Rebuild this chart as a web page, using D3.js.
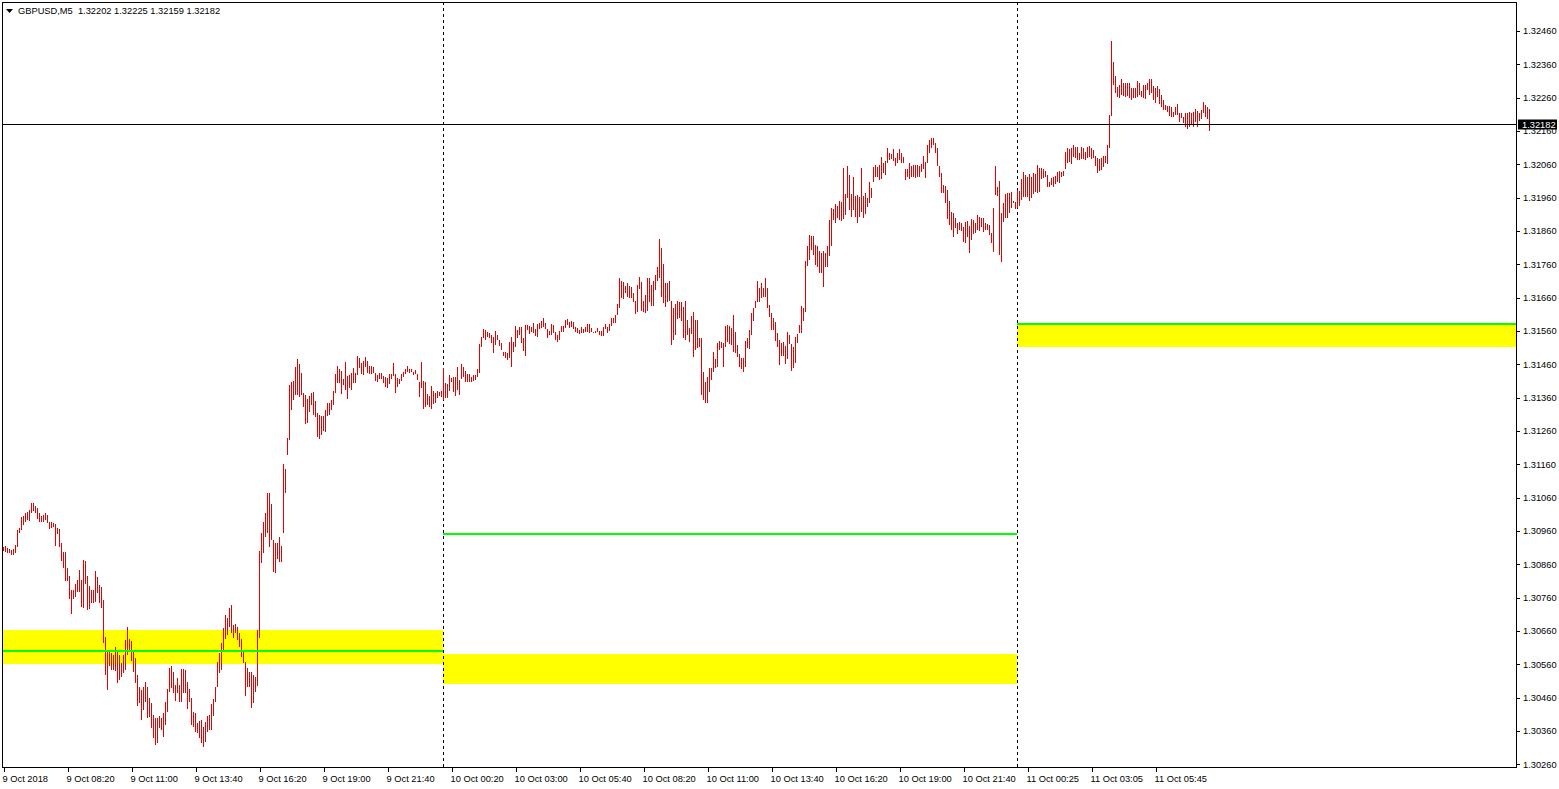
<!DOCTYPE html>
<html><head><meta charset="utf-8">
<script src="https://cdn.jsdelivr.net/npm/d3@7/dist/d3.min.js"></script>
<style>
html,body{margin:0;padding:0;background:#fff;overflow:hidden;}
svg{display:block;font-family:"Liberation Sans",Arial,sans-serif;}
</style></head><body>
<svg id="chart" width="1559" height="789"></svg>
<script>
// ---------------- data ----------------
const symbolTitle = "GBPUSD,M5";
const lastBarOHLC = [1.32202, 1.32225, 1.32159, 1.32182];
const timeLabels = ["9 Oct 2018","9 Oct 08:20","9 Oct 11:00","9 Oct 13:40","9 Oct 16:20","9 Oct 19:00","9 Oct 21:40",
  "10 Oct 00:20","10 Oct 03:00","10 Oct 05:40","10 Oct 08:20","10 Oct 11:00","10 Oct 13:40","10 Oct 16:20","10 Oct 19:00","10 Oct 21:40",
  "11 Oct 00:25","11 Oct 03:05","11 Oct 05:45"];
const timeLabelBars = [0,32,64,96,128,160,192,224,256,288,320,352,384,416,448,480,512,544,576];
const priceTicks = [1.32460,1.32360,1.32260,1.32160,1.32060,1.31960,1.31860,1.31760,1.31660,1.31560,1.31460,1.31360,
  1.31260,1.31160,1.31060,1.30960,1.30860,1.30760,1.30660,1.30560,1.30460,1.30360,1.30260];
const separatorBars = [220, 507];
// supply/demand zones (bar index range, price range)
const zoneStart = [-0.5, 220, 507];
const zoneEnd = [220, 507, 756.5];
const zoneTop = [1.30663, 1.30591, 1.31578];
const zoneBottom = [1.30561, 1.30501, 1.31513];
// green horizontal levels
const levelStart = [-0.5, 220, 507];
const levelEnd = [220, 507, 756.5];
const levelPrice = [1.30601, 1.30952, 1.31581];

const highs = [
1.30913,1.30915,1.30909,1.30906,1.30904,1.30905,1.30918,1.30963,1.30968,1.31003,
1.31005,1.31013,1.31016,1.31023,1.31043,1.31043,1.31036,1.31028,1.31013,1.31006,
1.31008,1.31013,1.31008,1.30988,1.30988,1.30985,1.30980,1.30968,1.30967,1.30923,
1.30897,1.30897,1.30850,1.30825,1.30783,1.30783,1.30801,1.30813,1.30843,1.30813,
1.30873,1.30871,1.30826,1.30795,1.30783,1.30783,1.30840,1.30823,1.30798,1.30793,
1.30753,1.30643,1.30598,1.30598,1.30593,1.30588,1.30613,1.30600,1.30588,1.30563,
1.30588,1.30633,1.30673,1.30636,1.30630,1.30603,1.30578,1.30528,1.30493,1.30483,
1.30493,1.30508,1.30493,1.30458,1.30443,1.30408,1.30398,1.30398,1.30406,1.30398,
1.30413,1.30448,1.30485,1.30548,1.30555,1.30538,1.30498,1.30518,1.30498,1.30545,
1.30545,1.30543,1.30508,1.30485,1.30458,1.30418,1.30413,1.30383,1.30390,1.30393,
1.30373,1.30386,1.30405,1.30408,1.30441,1.30455,1.30493,1.30568,1.30593,1.30623,
1.30668,1.30707,1.30698,1.30728,1.30738,1.30678,1.30681,1.30673,1.30653,1.30635,
1.30598,1.30566,1.30548,1.30538,1.30538,1.30528,1.30523,1.30663,1.30901,1.30955,
1.30988,1.31013,1.31073,1.31073,1.31041,1.30933,1.30923,1.30925,1.30941,1.30915,
1.31161,1.31145,1.31240,1.31398,1.31408,1.31410,1.31451,1.31475,1.31461,1.31433,
1.31373,1.31368,1.31355,1.31365,1.31373,1.31378,1.31350,1.31315,1.31308,1.31305,
1.31305,1.31323,1.31343,1.31343,1.31353,1.31380,1.31430,1.31455,1.31445,1.31441,
1.31415,1.31466,1.31425,1.31428,1.31433,1.31448,1.31435,1.31485,1.31478,1.31465,
1.31471,1.31481,1.31471,1.31455,1.31455,1.31453,1.31435,1.31428,1.31433,1.31433,
1.31425,1.31423,1.31418,1.31430,1.31430,1.31463,1.31430,1.31418,1.31415,1.31431,
1.31438,1.31446,1.31455,1.31446,1.31446,1.31438,1.31443,1.31431,1.31408,1.31468,
1.31411,1.31408,1.31371,1.31365,1.31395,1.31381,1.31373,1.31380,1.31378,1.31381,
1.31448,1.31405,1.31401,1.31428,1.31418,1.31423,1.31423,1.31451,1.31413,1.31461,
1.31451,1.31441,1.31431,1.31431,1.31423,1.31428,1.31428,1.31446,1.31521,1.31543,
1.31565,1.31563,1.31558,1.31553,1.31548,1.31543,1.31560,1.31548,1.31533,1.31525,
1.31498,1.31498,1.31493,1.31528,1.31541,1.31528,1.31575,1.31563,1.31573,1.31573,
1.31538,1.31578,1.31578,1.31575,1.31573,1.31585,1.31565,1.31580,1.31585,1.31590,
1.31598,1.31583,1.31566,1.31560,1.31581,1.31578,1.31558,1.31548,1.31560,1.31576,
1.31575,1.31593,1.31596,1.31586,1.31590,1.31588,1.31573,1.31568,1.31563,1.31573,
1.31566,1.31571,1.31580,1.31581,1.31568,1.31558,1.31560,1.31570,1.31561,1.31560,
1.31573,1.31581,1.31571,1.31581,1.31598,1.31600,1.31608,1.31641,1.31718,1.31710,
1.31706,1.31696,1.31703,1.31695,1.31691,1.31673,1.31650,1.31698,1.31723,1.31706,
1.31650,1.31668,1.31718,1.31718,1.31698,1.31710,1.31728,1.31751,1.31836,1.31808,
1.31761,1.31703,1.31703,1.31710,1.31650,1.31628,1.31641,1.31650,1.31646,1.31648,
1.31633,1.31650,1.31593,1.31568,1.31606,1.31618,1.31593,1.31593,1.31540,1.31538,
1.31438,1.31408,1.31423,1.31448,1.31448,1.31498,1.31476,1.31525,1.31530,1.31528,
1.31523,1.31575,1.31578,1.31575,1.31570,1.31608,1.31558,1.31518,1.31491,1.31480,
1.31478,1.31531,1.31540,1.31563,1.31615,1.31630,1.31650,1.31711,1.31688,1.31703,
1.31690,1.31720,1.31688,1.31638,1.31615,1.31600,1.31588,1.31553,1.31533,1.31523,
1.31528,1.31516,1.31558,1.31548,1.31520,1.31513,1.31543,1.31550,1.31578,1.31635,
1.31628,1.31771,1.31815,1.31848,1.31845,1.31845,1.31818,1.31815,1.31801,1.31795,
1.31801,1.31795,1.31815,1.31893,1.31930,1.31925,1.31941,1.31935,1.31951,1.31948,
1.32048,1.31971,1.32055,1.32028,1.31970,1.32023,1.31965,1.31968,1.31963,1.32048,
1.31965,1.31975,1.31958,1.32008,1.31988,1.32051,1.32058,1.32051,1.32058,1.32081,
1.32065,1.32070,1.32110,1.32095,1.32091,1.32105,1.32080,1.32095,1.32106,1.32093,
1.32083,1.32045,1.32045,1.32063,1.32055,1.32058,1.32058,1.32058,1.32055,1.32061,
1.32086,1.32068,1.32118,1.32133,1.32138,1.32138,1.32125,1.32110,1.32055,1.32035,
1.31998,1.31995,1.31983,1.31950,1.31918,1.31915,1.31900,1.31885,1.31888,1.31883,
1.31873,1.31888,1.31890,1.31875,1.31895,1.31893,1.31883,1.31908,1.31901,1.31898,
1.31898,1.31883,1.31881,1.31878,1.31853,1.31928,1.32055,1.31993,1.32010,1.31915,
1.31943,1.31971,1.31973,1.31975,1.31978,1.31951,1.31948,1.31983,1.31980,1.32015,
1.32036,1.32028,1.32023,1.32031,1.32023,1.32033,1.32031,1.32058,1.32048,1.32048,
1.32045,1.32041,1.32028,1.32008,1.32018,1.32023,1.32026,1.32038,1.32041,1.32038,
1.32041,1.32098,1.32108,1.32105,1.32108,1.32118,1.32113,1.32113,1.32095,1.32113,
1.32108,1.32098,1.32113,1.32115,1.32108,1.32103,1.32085,1.32078,1.32077,1.32078,
1.32085,1.32085,1.32118,1.32208,1.32431,1.32368,1.32326,1.32291,1.32298,1.32315,
1.32305,1.32303,1.32305,1.32305,1.32288,1.32288,1.32288,1.32311,1.32305,1.32281,
1.32298,1.32298,1.32303,1.32315,1.32315,1.32295,1.32288,1.32295,1.32285,1.32268,
1.32253,1.32238,1.32235,1.32235,1.32231,1.32218,1.32231,1.32241,1.32213,1.32215,
1.32201,1.32215,1.32215,1.32218,1.32213,1.32218,1.32225,1.32221,1.32215,1.32223,
1.32248,1.32238,1.32233,1.32225];

const lows = [
1.30901,1.30898,1.30895,1.30893,1.30888,1.30888,1.30893,1.30911,1.30955,1.30963,
1.30978,1.30988,1.30993,1.30990,1.31013,1.31021,1.31013,1.30996,1.30988,1.30988,
1.30988,1.30993,1.30983,1.30966,1.30968,1.30973,1.30916,1.30951,1.30913,1.30871,
1.30850,1.30811,1.30811,1.30756,1.30711,1.30755,1.30761,1.30776,1.30778,1.30731,
1.30728,1.30801,1.30723,1.30725,1.30743,1.30743,1.30748,1.30773,1.30743,1.30728,
1.30623,1.30528,1.30483,1.30555,1.30543,1.30543,1.30541,1.30505,1.30513,1.30523,
1.30533,1.30543,1.30588,1.30598,1.30571,1.30538,1.30505,1.30436,1.30443,1.30393,
1.30423,1.30448,1.30398,1.30403,1.30368,1.30338,1.30318,1.30323,1.30368,1.30363,
1.30341,1.30378,1.30418,1.30478,1.30488,1.30473,1.30450,1.30473,1.30448,1.30448,
1.30475,1.30473,1.30426,1.30448,1.30378,1.30373,1.30358,1.30353,1.30338,1.30323,
1.30311,1.30328,1.30358,1.30363,1.30363,1.30405,1.30448,1.30493,1.30533,1.30543,
1.30598,1.30635,1.30649,1.30673,1.30653,1.30638,1.30653,1.30633,1.30611,1.30583,
1.30565,1.30465,1.30491,1.30493,1.30430,1.30443,1.30478,1.30495,1.30640,1.30865,
1.30895,1.30941,1.30953,1.30913,1.30933,1.30838,1.30835,1.30875,1.30868,1.30868,
1.30955,1.31075,1.31188,1.31233,1.31323,1.31353,1.31368,1.31368,1.31363,1.31368,
1.31333,1.31280,1.31285,1.31318,1.31338,1.31308,1.31303,1.31243,1.31235,1.31248,
1.31260,1.31258,1.31305,1.31308,1.31323,1.31338,1.31373,1.31403,1.31403,1.31370,
1.31398,1.31383,1.31355,1.31388,1.31383,1.31403,1.31405,1.31428,1.31448,1.31430,
1.31428,1.31451,1.31433,1.31430,1.31430,1.31435,1.31411,1.31408,1.31415,1.31415,
1.31405,1.31393,1.31388,1.31401,1.31415,1.31425,1.31373,1.31393,1.31401,1.31411,
1.31423,1.31431,1.31438,1.31433,1.31436,1.31428,1.31430,1.31413,1.31363,1.31388,
1.31325,1.31333,1.31338,1.31333,1.31325,1.31340,1.31345,1.31360,1.31366,1.31363,
1.31353,1.31360,1.31360,1.31381,1.31408,1.31378,1.31366,1.31383,1.31368,1.31415,
1.31423,1.31408,1.31408,1.31408,1.31408,1.31411,1.31413,1.31423,1.31435,1.31511,
1.31538,1.31533,1.31543,1.31538,1.31523,1.31495,1.31518,1.31533,1.31516,1.31503,
1.31485,1.31478,1.31473,1.31480,1.31453,1.31496,1.31513,1.31538,1.31548,1.31523,
1.31501,1.31485,1.31563,1.31550,1.31556,1.31553,1.31545,1.31543,1.31566,1.31568,
1.31573,1.31566,1.31540,1.31548,1.31548,1.31553,1.31533,1.31526,1.31532,1.31558,
1.31558,1.31568,1.31578,1.31570,1.31573,1.31566,1.31558,1.31553,1.31551,1.31553,
1.31553,1.31558,1.31558,1.31553,1.31558,1.31553,1.31553,1.31556,1.31548,1.31546,
1.31546,1.31566,1.31553,1.31560,1.31576,1.31583,1.31585,1.31608,1.31628,1.31658,
1.31656,1.31673,1.31663,1.31658,1.31660,1.31646,1.31610,1.31618,1.31685,1.31620,
1.31616,1.31613,1.31620,1.31646,1.31635,1.31636,1.31683,1.31710,1.31720,1.31663,
1.31645,1.31633,1.31646,1.31650,1.31518,1.31533,1.31548,1.31595,1.31600,1.31591,
1.31538,1.31533,1.31548,1.31526,1.31550,1.31483,1.31503,1.31508,1.31513,1.31368,
1.31353,1.31343,1.31343,1.31378,1.31413,1.31438,1.31448,1.31453,1.31503,1.31510,
1.31453,1.31513,1.31526,1.31520,1.31518,1.31496,1.31495,1.31483,1.31453,1.31446,
1.31438,1.31453,1.31510,1.31506,1.31548,1.31591,1.31628,1.31648,1.31648,1.31658,
1.31663,1.31663,1.31630,1.31603,1.31563,1.31563,1.31531,1.31513,1.31458,1.31486,
1.31486,1.31460,1.31476,1.31520,1.31441,1.31448,1.31463,1.31523,1.31555,1.31555,
1.31591,1.31618,1.31755,1.31773,1.31803,1.31788,1.31758,1.31753,1.31735,1.31735,
1.31693,1.31751,1.31751,1.31785,1.31815,1.31893,1.31883,1.31898,1.31893,1.31891,
1.31895,1.31908,1.31958,1.31923,1.31903,1.31923,1.31903,1.31883,1.31903,1.31918,
1.31900,1.31911,1.31933,1.31943,1.31958,1.32008,1.32023,1.32023,1.32013,1.32015,
1.32033,1.32028,1.32065,1.32073,1.32075,1.32071,1.32055,1.32065,1.32073,1.32065,
1.32065,1.32013,1.32021,1.32015,1.32021,1.32021,1.32018,1.32023,1.32023,1.32038,
1.32045,1.32018,1.32063,1.32093,1.32108,1.32118,1.32095,1.32055,1.32023,1.31973,
1.31973,1.31943,1.31895,1.31878,1.31863,1.31843,1.31868,1.31851,1.31863,1.31860,
1.31828,1.31825,1.31843,1.31793,1.31833,1.31851,1.31853,1.31863,1.31860,1.31873,
1.31858,1.31863,1.31863,1.31848,1.31823,1.31798,1.31968,1.31965,1.31788,1.31768,
1.31888,1.31898,1.31900,1.31915,1.31928,1.31943,1.31926,1.31928,1.31936,1.31953,
1.31963,1.31963,1.31963,1.31950,1.31958,1.31971,1.31978,1.31973,1.31978,1.32015,
1.32018,1.32023,1.31991,1.31993,1.31998,1.31993,1.32000,1.32008,1.32003,1.32023,
1.32025,1.32045,1.32063,1.32068,1.32061,1.32083,1.32080,1.32073,1.32073,1.32075,
1.32075,1.32073,1.32078,1.32083,1.32075,1.32078,1.32055,1.32035,1.32041,1.32043,
1.32053,1.32063,1.32061,1.32108,1.32205,1.32298,1.32275,1.32263,1.32258,1.32268,
1.32265,1.32261,1.32265,1.32258,1.32253,1.32258,1.32258,1.32263,1.32268,1.32263,
1.32258,1.32255,1.32283,1.32268,1.32275,1.32253,1.32245,1.32261,1.32241,1.32231,
1.32223,1.32223,1.32218,1.32205,1.32203,1.32201,1.32208,1.32208,1.32188,1.32198,
1.32183,1.32173,1.32165,1.32173,1.32178,1.32171,1.32188,1.32173,1.32191,1.32195,
1.32215,1.32201,1.32195,1.32159];

// ---------------- layout ----------------
const W = 1559, H = 789;
const frame = {left: 2, top: 2, right: 1516, bottom: 767};
const barColor = "#e60000";

const svg = d3.select("#chart");
svg.append("rect").attr("width", W).attr("height", H).attr("fill", "#fff");

const n = Math.min(highs.length, lows.length);
const x = d3.scaleLinear().domain([0, 603]).range([3, 1209]);
const y = d3.scaleLinear().domain([1.30260, 1.32460]).range([764.33, 31]);

svg.append("clipPath").attr("id", "plotclip").append("rect")
  .attr("x", frame.left + 1).attr("y", frame.top + 1)
  .attr("width", frame.right - frame.left - 1).attr("height", frame.bottom - frame.top - 1);

const plot = svg.append("g").attr("clip-path", "url(#plotclip)").attr("shape-rendering", "crispEdges");

// zones
plot.selectAll("rect.zone").data(d3.range(zoneStart.length)).join("rect")
  .attr("class", "zone")
  .attr("x", i => Math.round(x(zoneStart[i])))
  .attr("width", i => Math.round(x(zoneEnd[i])) - Math.round(x(zoneStart[i])))
  .attr("y", i => Math.round(y(zoneTop[i])))
  .attr("height", i => Math.round(y(zoneBottom[i])) - Math.round(y(zoneTop[i])))
  .attr("fill", "#ffff00");

// period separators
plot.selectAll("line.sep").data(separatorBars).join("line")
  .attr("class", "sep")
  .attr("x1", d => Math.round(x(d)) + 0.5).attr("x2", d => Math.round(x(d)) + 0.5)
  .attr("y1", frame.top).attr("y2", frame.bottom)
  .attr("stroke", "#000").attr("stroke-width", 1).attr("stroke-dasharray", "3,3");

// bars (high-low)
plot.selectAll("rect.bar").data(d3.range(n)).join("rect")
  .attr("class", "bar")
  .attr("x", i => Math.round(x(i)))
  .attr("width", 1)
  .attr("y", i => Math.round(y(highs[i])))
  .attr("height", i => Math.max(1, Math.round(y(lows[i])) - Math.round(y(highs[i]))))
  .attr("fill", barColor);

// green levels
plot.selectAll("rect.level").data(d3.range(levelPrice.length)).join("rect")
  .attr("class", "level")
  .attr("x", i => Math.round(x(levelStart[i])))
  .attr("width", i => Math.round(x(levelEnd[i])) - Math.round(x(levelStart[i])))
  .attr("y", i => Math.round(y(levelPrice[i])) - 1)
  .attr("height", 2)
  .attr("fill", "#00ff00");

// current price line
const lastClose = lastBarOHLC[3];
const yc = Math.round(y(lastClose));
plot.append("line").attr("x1", frame.left).attr("x2", frame.right)
  .attr("y1", yc + 0.5).attr("y2", yc + 0.5).attr("stroke", "#000").attr("stroke-width", 1);

// frame
svg.append("rect")
  .attr("x", frame.left + 0.5).attr("y", frame.top + 0.5)
  .attr("width", frame.right - frame.left).attr("height", frame.bottom - frame.top)
  .attr("fill", "none").attr("stroke", "#000").attr("stroke-width", 1)
  .attr("shape-rendering", "crispEdges");

const FS = "9.3px";

// y axis (right)
const yAxis = d3.axisRight(y).tickValues(priceTicks).tickFormat(d3.format(".5f")).tickSize(3).tickPadding(3);
const gy = svg.append("g").attr("transform", `translate(${frame.right + 1},0)`).call(yAxis);
gy.select(".domain").remove();
gy.selectAll(".tick line").attr("stroke", "#000").attr("shape-rendering", "crispEdges");
gy.selectAll(".tick text").attr("fill", "#000").style("font-size", FS)
  .style("font-family", '"Liberation Sans", Arial, sans-serif');

// x axis (bottom)
const xAxis = d3.axisBottom(x).tickValues(timeLabelBars)
  .tickFormat((d, i) => timeLabels[i]).tickSize(4).tickPadding(3);
const gx = svg.append("g").attr("transform", `translate(0.5,${frame.bottom + 1})`).call(xAxis);
gx.select(".domain").remove();
gx.selectAll(".tick line").attr("stroke", "#000").attr("shape-rendering", "crispEdges");
gx.selectAll(".tick text").attr("fill", "#000").attr("text-anchor", "start").attr("dx", "-1.5")
  .style("font-size", FS).style("font-family", '"Liberation Sans", Arial, sans-serif');

// current price label
svg.append("rect").attr("x", 1518).attr("y", yc - 4.5).attr("width", 39).attr("height", 10).attr("fill", "#000");
svg.append("text").attr("x", 1522).attr("y", yc + 0.5).attr("dy", "0.35em")
  .attr("fill", "#fff").style("font-size", FS).text(d3.format(".5f")(lastClose));

// header
svg.append("path").attr("d", "M6,9 L13,9 L9.5,13 Z").attr("fill", "#000");
svg.append("text").attr("x", 18).attr("y", 14).attr("fill", "#000").style("font-size", FS)
  .text(`${symbolTitle}  ${lastBarOHLC.map(d3.format(".5f")).join(" ")}`).attr("xml:space", "preserve")
  .style("white-space", "pre");
</script>
</body></html>
